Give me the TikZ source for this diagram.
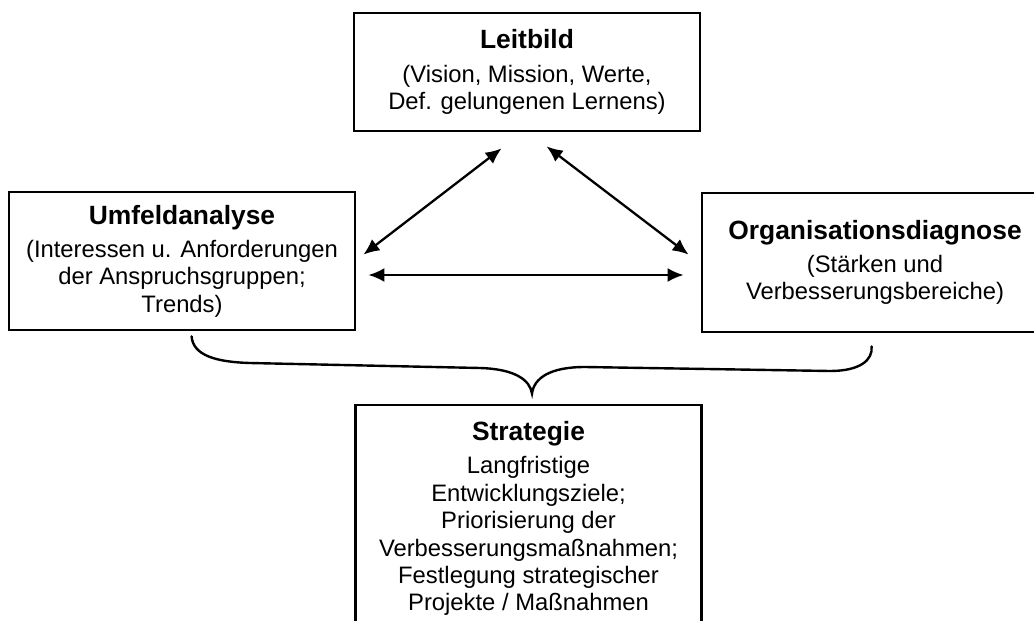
\documentclass[tikz,border=0pt]{standalone}
\usepackage{fontspec}
\setmainfont{Liberation Sans}
\usetikzlibrary{arrows.meta,calc}

\begin{document}
\begin{tikzpicture}[x=0.5pt,y=-0.5pt,
	box/.style={draw=black,line width=1.4pt,rectangle,align=center,inner sep=0pt,
		minimum width=173pt,font=\fontsize{11.9pt}{13.7pt}\selectfont},
	link/.style={>={Latex[length=8pt,width=7pt]},<->,line width=1.15pt},
	bracket/.style={line width=1.2pt,line cap=round}]
\def\hd#1{{\fontsize{13.2pt}{15pt}\selectfont\bfseries #1}\\[3pt]}

\useasboundingbox (0,0) rectangle (1034,621);
\clip (0,0) rectangle (1034,621);

\node[box,minimum height=59pt] (leitbild) at (527,72)
	{\hd{Leitbild}(Vision, Mission, Werte,\\Def. gelungenen Lernens)};
\node[box,minimum height=69pt] (umfeld) at (182,261)
	{\hd{Umfeldanalyse}(Interessen u. Anforderungen\\der Anspruchsgruppen;\\Trends)};
\node[box,minimum height=69.5pt] (orga) at (875,262.5)
	{\hd{Organisationsdiagnose}(Stärken und\\Verbesserungsbereiche)};
\node[box,minimum height=113.5pt] (strategie) at (528.5,518.5)
	{\hd{Strategie}Langfristige\\Entwicklungsziele;\\Priorisierung der\\Verbesserungsmaßnahmen;\\Festlegung strategischer\\Projekte / Maßnahmen};

\draw[link] ($(leitbild.south west)+(149,16)$) -- ($(umfeld.north east)+(7,64)$);
\draw[link] ($(leitbild.south west)+(194,14)$) -- ($(orga.north west)+(-12,63)$);
\draw[link] ($(umfeld.east)+(12,14)$) -- ($(orga.west)+(-17,12.5)$);

\coordinate (bl) at ($(umfeld.south west)+(184,5)$);
\coordinate (tip) at ($(strategie.north)+(3.5,-10)$);
\coordinate (br) at ($(orga.south west)+(171,13)$);
\draw[bracket] (bl) .. controls (193,355) and (215,362) .. (250,363) -- (480,368)
	.. controls (515,369) and (530,380) .. (tip)
	.. controls (534,378) and (550,367) .. (585,367) -- (830,371)
	.. controls (860,371) and (873,360) .. (br);
\end{tikzpicture}
\end{document}
